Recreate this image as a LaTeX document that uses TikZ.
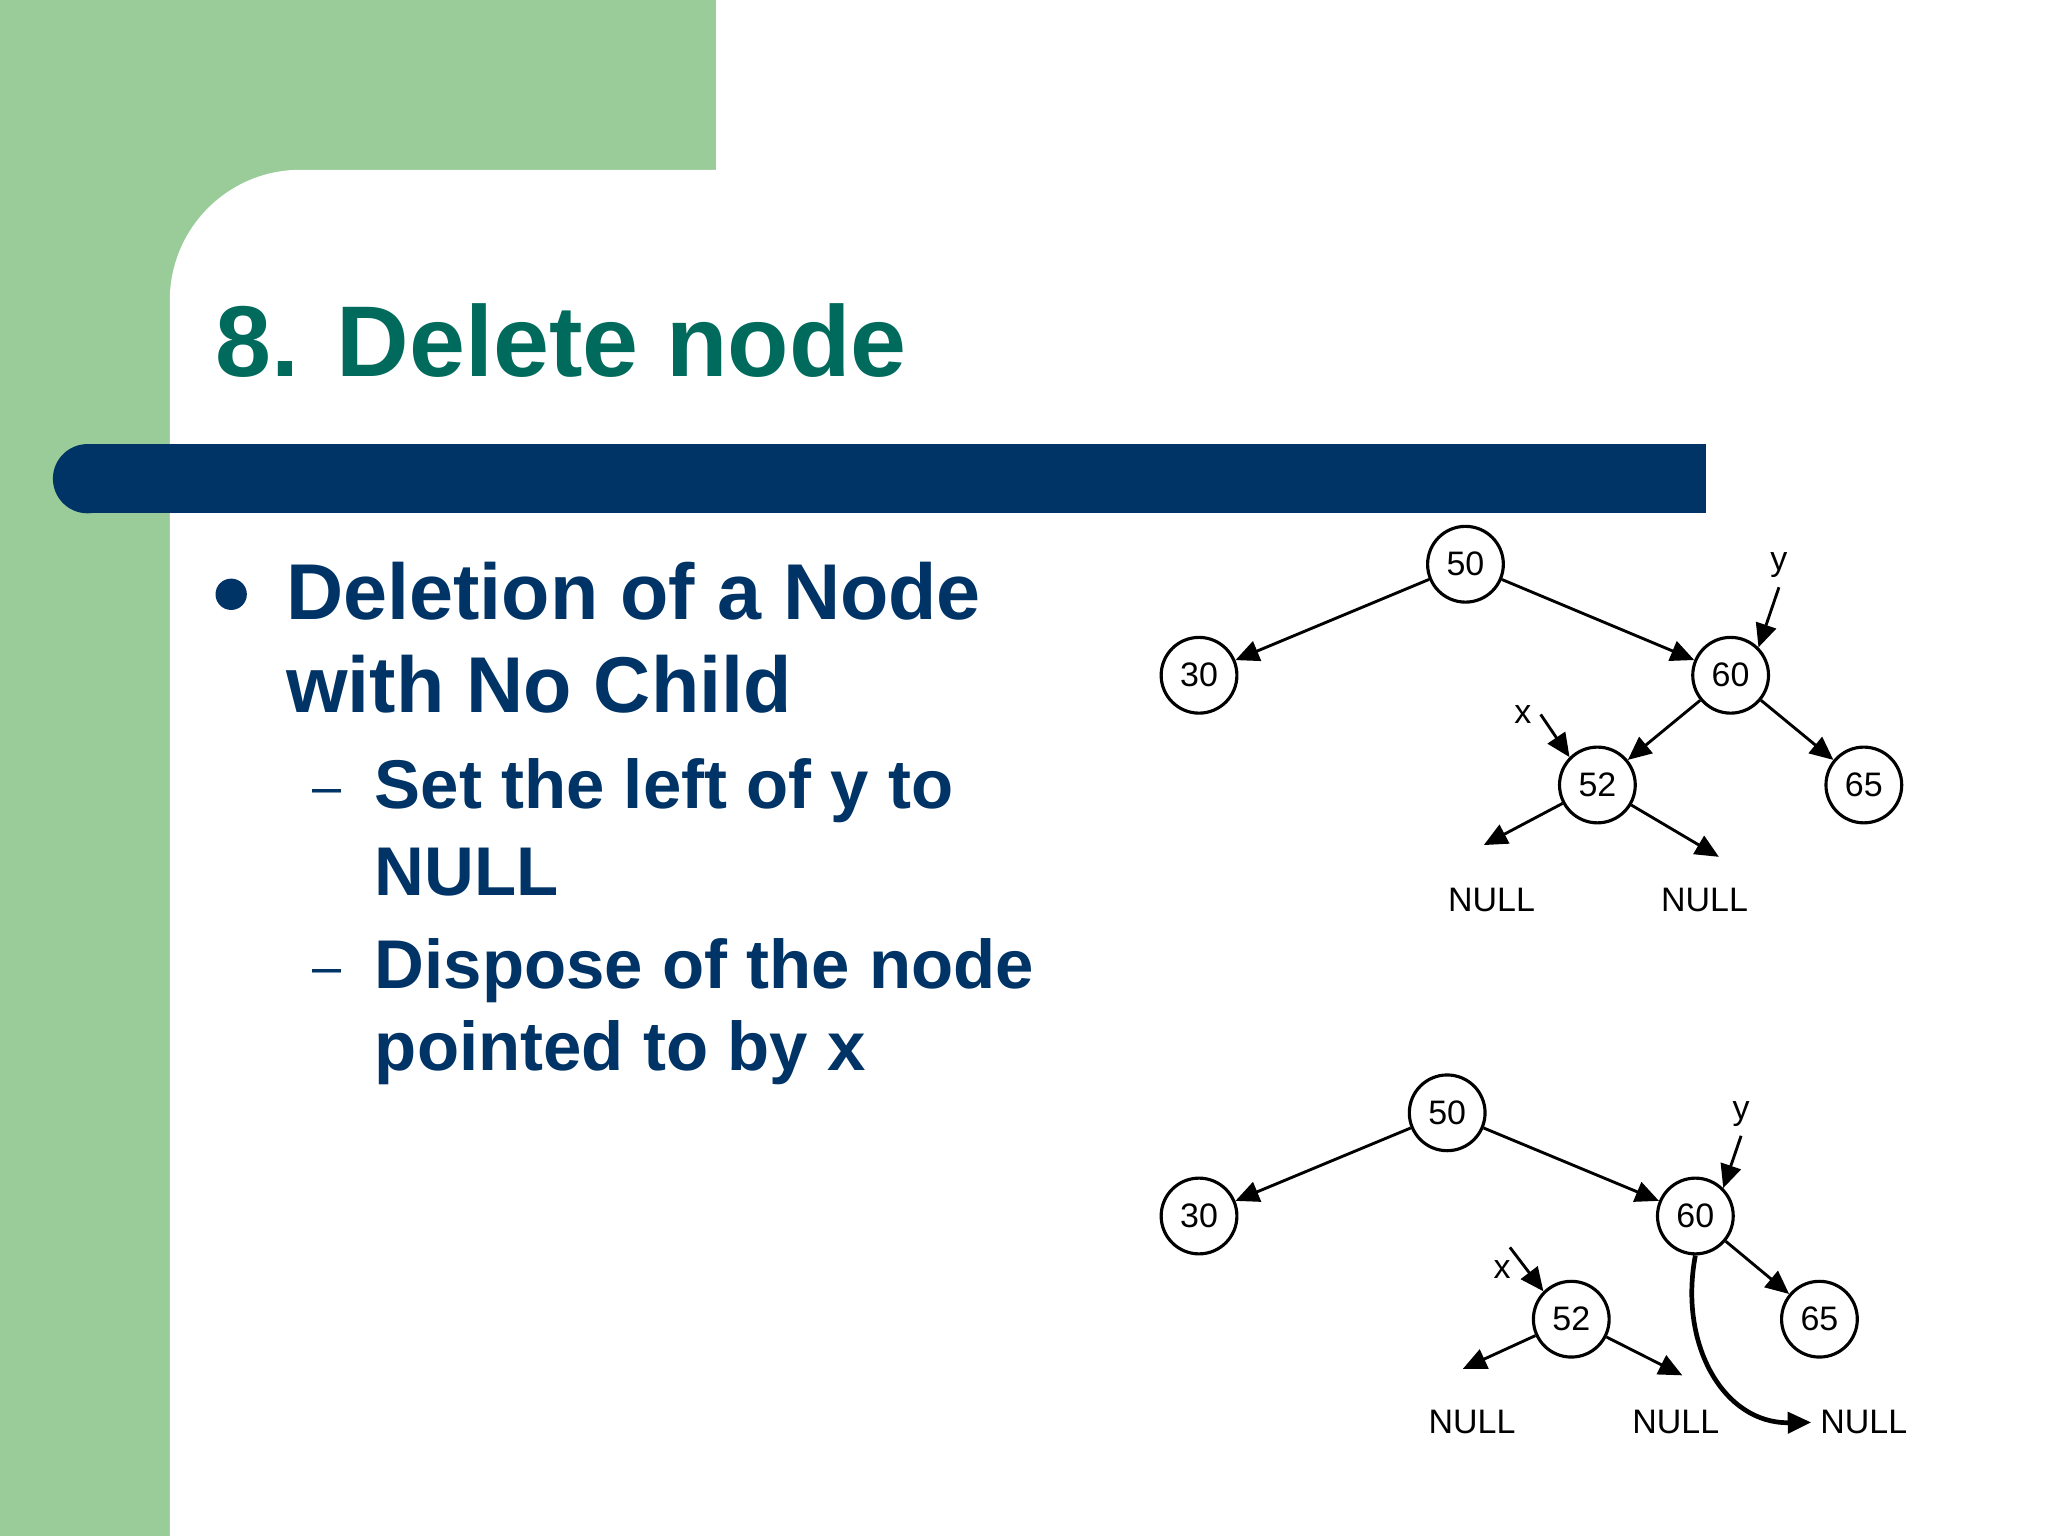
\documentclass[tikz,border=0pt]{standalone}
\usepackage{fontspec}
\setmainfont{Liberation Sans}
\usetikzlibrary{arrows.meta}
\definecolor{bggreen}{RGB}{153,204,153}
\definecolor{titleteal}{RGB}{0,107,92}
\definecolor{navy}{RGB}{0,51,102}
\begin{document}
\begin{tikzpicture}[x=0.5pt,y=-0.5pt,
  tn/.style={circle,draw,line width=1.2pt,minimum size=29pt,inner sep=0pt,font=\fontsize{13}{13}\selectfont},
  nl/.style={font=\fontsize{13}{13}\selectfont},
  ar/.style={line width=1.1pt,-{Triangle[length=9pt,width=8pt]}},
  body/.style={anchor=west,text=navy,font=\bfseries\fontsize{30.3}{36}\selectfont},
  sub/.style={anchor=west,text=navy,font=\bfseries\fontsize{26.4}{31}\selectfont}]
\useasboundingbox (0,0) rectangle (1568,1176);
\fill[bggreen] (0,0) rectangle (548,1176);
\fill[white,rounded corners=50] (130,1176) -- (130,130) [sharp corners] -- (1568,130) -- (1568,1176) -- cycle;
\node[anchor=base west,text=titleteal,font=\bfseries\fontsize{38.5}{46}\selectfont] (title) at (158,288) {8. Delete node};
\fill[navy] (67,340) rectangle (1306,393);
\fill[navy] (67,366.5) circle (26.5);
\fill[navy] (177,455) circle (12);
\node[body] (b1) at (212,453) {Deletion of a Node};
\node[body] (b2) at (212,524) {with No Child};
\node[sub,font=\fontsize{20}{20}\selectfont] (d1) at (232,610) {--};
\node[sub] (s1) at (280,605) {Set the left of y to};
\node[sub] (s2) at (280,668) {NULL};
\node[sub,font=\fontsize{20}{20}\selectfont] (d2) at (232,748) {--};
\node[sub] (s3) at (280,743) {Dispose of the node};
\node[sub] (s4) at (280,806) {pointed to by x};
% tree 1
\node[tn] (a50) at (1122,432) {50};
\node[tn] (a30) at (918,517) {30};
\node[tn] (a60) at (1325,517) {60};
\node[tn] (a52) at (1223,601) {52};
\node[tn] (a65) at (1427,601) {65};
\node[nl] (an1) at (1142,689) {NULL};
\node[nl] (an2) at (1305,689) {NULL};
\node[nl] (ay) at (1362,433) {y};
\node[nl] (ax) at (1166,547) {x};
\draw[ar] (a50) -- (a30);
\draw[ar] (a50) -- (a60);
\draw[ar] (a60) -- (a52);
\draw[ar] (a60) -- (a65);
\draw[ar] (a52) -- (1136,647);
\draw[ar] (a52) -- (1316,656);
\draw[ar] (ay.south) -- (a60.north east);
\draw[ar] (ax.east) -- (a52.north west);
% tree 2
\node[tn] (b50) at (1108,852) {50};
\node[tn] (b30) at (918,931) {30};
\node[tn] (b60) at (1298,931) {60};
\node[tn] (b52) at (1203,1010) {52};
\node[tn] (b65) at (1393,1010) {65};
\node[nl] (bn1) at (1127,1089) {NULL};
\node[nl] (bn2) at (1283,1089) {NULL};
\node[nl] (bn3) at (1427,1089) {NULL};
\node[nl] (by) at (1333,853) {y};
\node[nl] (bx) at (1150,972) {x};
\draw[ar] (b50) -- (b30);
\draw[ar] (b50) -- (b60);
\draw[ar] (b60) -- (b65);
\draw[ar] (b52) -- (1120,1048);
\draw[ar] (b52) -- (1288,1053);
\draw[ar] (by.south) -- (b60.north east);
\draw[ar] (1156,955) -- (b52.north west);
\draw[ar,line width=1.8pt] (b60.south) .. controls (1285,1030) and (1320,1090) .. (bn3.west);
\end{tikzpicture}
\end{document}
